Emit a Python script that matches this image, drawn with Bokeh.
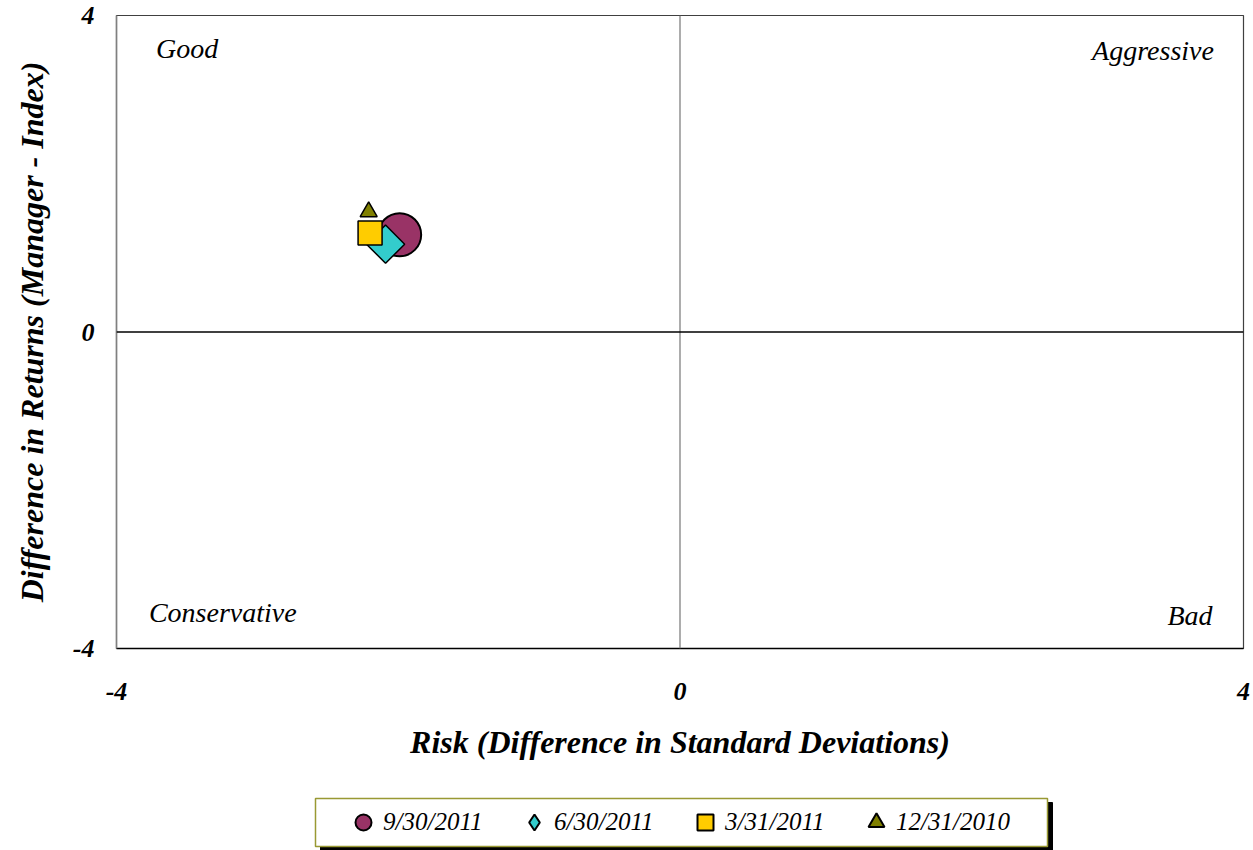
import math
from bokeh.plotting import figure
from bokeh.layouts import column
from bokeh.models import Legend, LegendItem, Label, Span, FixedTicker, ColumnDataSource
from bokeh.embed import file_html
from bokeh.resources import INLINE

# ---- data ----
dates = ["9/30/2011", "6/30/2011", "3/31/2011", "12/31/2010"]
risk = [-1.99, -2.09, -2.20, -2.21]
excess_return = [1.23, 1.11, 1.25, 1.52]
colors = ["#993366", "#33CCCC", "#FFCC00", "#808000"]
x_ticks = [-4, 0, 4]
y_ticks = [-4, 0, 4]
tick_labels = ["-4", "0", "4"]
quadrant_names = ["Good", "Aggressive", "Conservative", "Bad"]

# ---- styles ----
chart_markers = ["circle", "square", "square", "triangle"]
chart_angles = [0, math.pi / 4, 0, 0]
chart_sizes = [43, 27, 24, 17]
legend_markers = ["circle", "diamond", "square", "triangle"]
FONT = "Liberation Serif"

p = figure(width=1253, height=790, x_range=(-4, 4), y_range=(-4, 4),
           output_backend="svg", toolbar_location=None,
           min_border_left=116, min_border_right=10, min_border_top=15, min_border_bottom=142)
p.background_fill_color = "white"
p.border_fill_color = "white"
p.outline_line_color = "#404040"
p.outline_line_width = 1.2
p.grid.visible = False

for ax, ticks in ((p.xaxis, x_ticks), (p.yaxis, y_ticks)):
    ax.ticker = FixedTicker(ticks=ticks)
    ax.major_label_overrides = {t: s for t, s in zip(ticks, tick_labels)}
    ax.major_tick_in = 0
    ax.major_tick_out = 0
    ax.minor_tick_in = 0
    ax.minor_tick_out = 0
    ax.major_label_text_font = FONT
    ax.major_label_text_font_style = "bold italic"
    ax.major_label_text_font_size = "26px"
    ax.major_label_text_color = "black"
    ax.axis_label_text_font = FONT
    ax.axis_label_text_font_style = "bold italic"
    ax.axis_label_text_font_size = "32px"
    ax.axis_label_text_color = "black"

p.xaxis.axis_label = "Risk (Difference in Standard Deviations)"
p.yaxis.axis_label = "Difference in Returns (Manager - Index)"
p.xaxis.axis_line_color = "black"
p.xaxis.axis_line_width = 1.5
p.yaxis.axis_line_color = "#808080"
p.yaxis.axis_line_width = 1.5
p.xaxis.major_label_standoff = 34
p.xaxis.axis_label_standoff = 21
p.yaxis.major_label_standoff = 22
p.yaxis.axis_label_standoff = 20

# quadrant dividers
p.add_layout(Span(location=0, dimension="height", line_color="#808080", line_width=1.3))
p.add_layout(Span(location=0, dimension="width", line_color="black", line_width=1.3))

# quadrant labels
quad_pos = [(-3.72, 3.58, "left"), (3.79, 3.56, "right"), (-3.77, -3.54, "left"), (3.78, -3.58, "right")]
for name, (qx, qy, al) in zip(quadrant_names, quad_pos):
    p.add_layout(Label(x=qx, y=qy, text=name, text_align=al, text_baseline="middle",
                       text_font=FONT, text_font_style="italic", text_font_size="28px",
                       text_color="black"))

# data points
for i in range(len(dates)):
    src = ColumnDataSource(dict(x=[risk[i]], y=[excess_return[i]]))
    p.scatter("x", "y", source=src, marker=chart_markers[i], size=chart_sizes[i],
              angle=chart_angles[i], fill_color=colors[i], line_color="black",
              line_width=2 if i == 0 else 1.5)

# ---- legend strip (its frame is aligned with the chart frame: 116..1243 px) ----
lf = figure(width=1253, height=60, x_range=(116, 1243), y_range=(0, 60),
            output_backend="svg", toolbar_location=None,
            x_axis_type=None, y_axis_type=None,
            min_border_left=116, min_border_right=10, min_border_top=0, min_border_bottom=0)
lf.outline_line_color = None
lf.grid.visible = False
lf.background_fill_color = "white"
lf.border_fill_color = "white"

# legend frame with drop shadow
lf.quad(left=[320], right=[1052], top=[48], bottom=[0], fill_color="black", line_color="black")
lf.quad(left=[315], right=[1047], top=[52], bottom=[4], fill_color="white",
        line_color="#999933", line_width=1.5)

# legend proxies: same series, lying outside this strip's visible range
leg_renderers = []
for i in range(len(dates)):
    src = ColumnDataSource(dict(x=[risk[i]], y=[excess_return[i]]))
    r = lf.scatter("x", "y", source=src, marker=legend_markers[i], size=17,
                   fill_color=colors[i], line_color="black", line_width=2)
    leg_renderers.append(r)

items = [LegendItem(label=d, renderers=[r]) for d, r in zip(dates, leg_renderers)]
legend = Legend(items=items, orientation="horizontal", location=(227, 8),
                glyph_width=40, glyph_height=40, label_standoff=0, label_width=131,
                spacing=0, padding=0, margin=0,
                border_line_color=None, background_fill_alpha=0.0,
                label_text_font=FONT, label_text_font_style="italic",
                label_text_font_size="25px", label_text_color="black")
lf.add_layout(legend)

layout = column(p, lf, spacing=0)
open("out.html", "w").write(file_html(layout, INLINE))
